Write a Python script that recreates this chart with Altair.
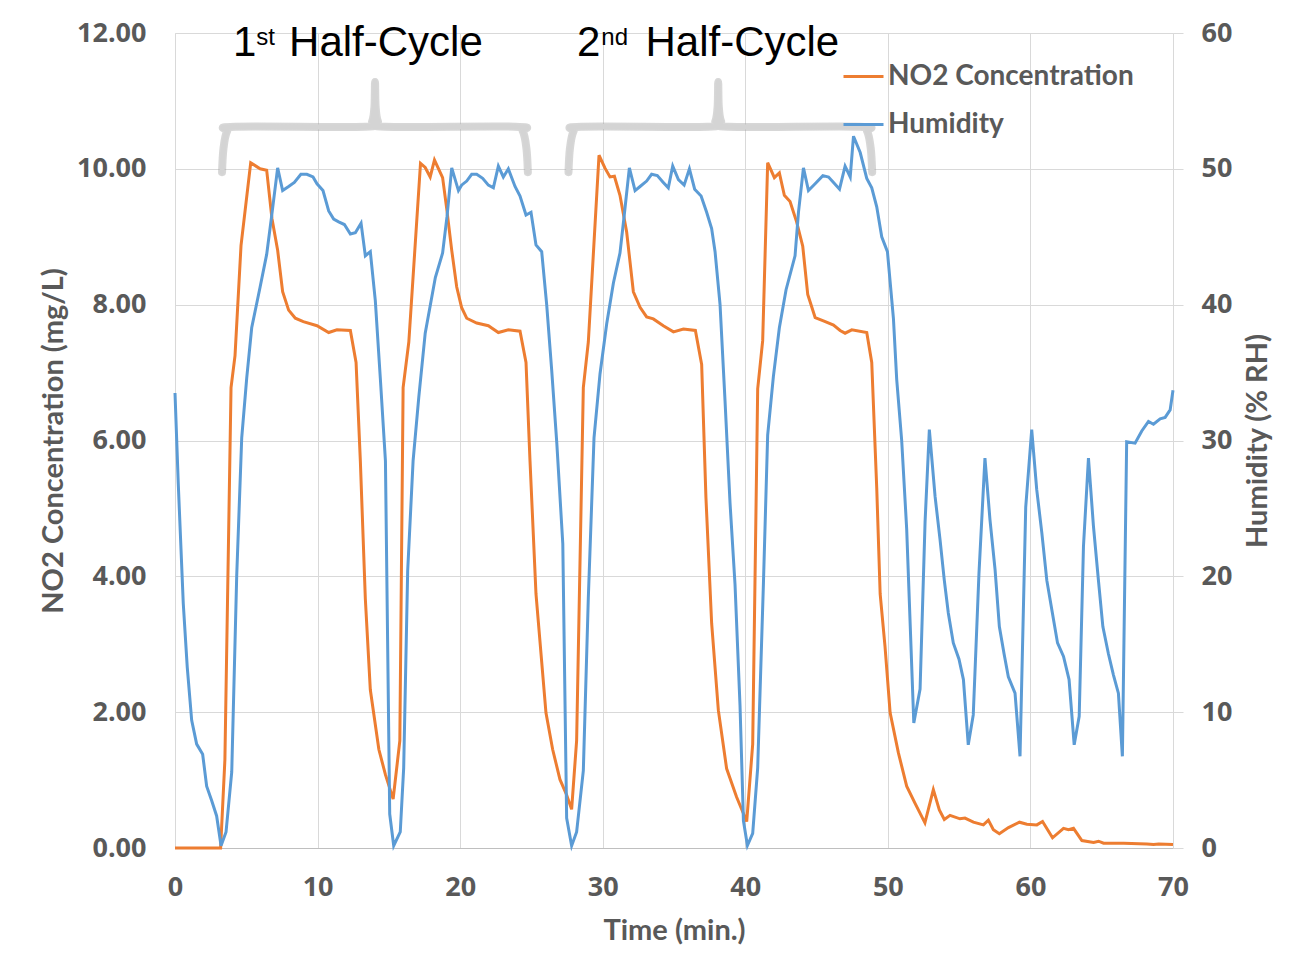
import altair as alt
import pandas as pd

# ---------------- data ----------------
no2_time = [0.0, 3.2, 3.5, 3.93, 4.21, 4.63, 5.31, 5.97, 6.43, 6.8, 7.2, 7.55, 7.97, 8.44, 9.0, 9.96,
            10.78, 11.36, 12.3, 12.7, 13.0, 13.35, 13.7, 14.3, 14.76, 15.3, 15.77, 16.0, 16.4, 17.22,
            17.55, 17.9, 18.2, 18.77, 19.06, 19.41, 19.76, 20.1, 20.46, 21.16, 21.98, 22.68, 23.38,
            24.2, 24.62, 24.9, 25.32, 26.02, 26.49, 27.0, 27.47, 27.82, 28.17, 28.64, 28.99, 29.74,
            30.16, 30.51, 30.82, 31.21, 31.68, 32.15, 32.62, 33.08, 33.55, 34.25, 34.96, 35.66, 36.5,
            36.94, 37.24, 37.64, 38.11, 38.69, 39.39, 40.1, 40.52, 40.87, 41.22, 41.57, 42.04, 42.39,
            42.74, 43.14, 43.6, 44.03, 44.38, 44.9, 45.48, 46.19, 46.65, 47.0, 47.47, 48.52, 48.87,
            49.22, 49.46, 49.8, 50.16, 50.74, 51.32, 51.9, 52.6, 53.19, 53.61, 53.96, 54.36, 55.06,
            55.41, 56.0, 56.7, 57.05, 57.4, 57.82, 58.46, 59.23, 59.75, 60.45, 60.85, 61.55, 62.32,
            62.67, 63.02, 63.61, 64.43, 64.78, 65.13, 66.54, 68.17, 68.64, 69.0, 70.0]
no2_value = [0.0, 0.0, 1.3, 6.78, 7.25, 8.87, 10.09, 10.0, 9.98, 9.27, 8.8, 8.19, 7.92, 7.8, 7.75, 7.69,
             7.59, 7.63, 7.62, 7.15, 5.7, 3.67, 2.33, 1.45, 1.08, 0.72, 1.58, 6.78, 7.45, 10.08,
             10.02, 9.88, 10.13, 9.87, 9.41, 8.8, 8.26, 7.96, 7.8, 7.73, 7.69, 7.59, 7.63,
             7.61, 7.15, 5.7, 3.74, 1.99, 1.45, 1.01, 0.78, 0.57, 1.58, 6.78, 7.45, 10.2,
             10.01, 9.88, 9.89, 9.61, 9.07, 8.19, 7.96, 7.82, 7.79, 7.69, 7.6, 7.64, 7.62,
             7.12, 5.16, 3.31, 2.03, 1.17, 0.75, 0.39, 1.53, 6.76, 7.47, 10.09, 9.87, 9.94,
             9.61, 9.52, 9.22, 8.86, 8.15, 7.81, 7.76, 7.7, 7.62, 7.58, 7.63, 7.59, 7.15,
             5.3, 3.74, 2.97, 1.99, 1.4, 0.91, 0.66, 0.37, 0.86, 0.56, 0.42, 0.48, 0.43,
             0.44, 0.38, 0.34, 0.41, 0.27, 0.21, 0.3, 0.38, 0.35, 0.34, 0.39, 0.15, 0.29,
             0.27, 0.29, 0.11, 0.08, 0.1, 0.07, 0.07, 0.06, 0.05, 0.06, 0.05]

hum_time = [0.0, 0.23, 0.58, 0.86, 1.17, 1.52, 1.94, 2.22, 2.57, 2.92, 3.23, 3.58, 3.98, 4.33, 4.68,
            5.03, 5.38, 5.97, 6.43, 6.8, 7.2, 7.55, 7.97, 8.37, 8.83, 9.25, 9.68, 9.96, 10.38, 10.78,
            11.13, 11.48, 11.88, 12.3, 12.65, 13.05, 13.35, 13.7, 14.05, 14.4, 14.76, 15.06, 15.34,
            15.8, 16.04, 16.32, 16.7, 17.1, 17.55, 18.26, 18.77, 19.08, 19.41, 19.88, 20.1, 20.46,
            20.81, 21.16, 21.58, 21.98, 22.33, 22.68, 23.03, 23.38, 23.85, 24.2, 24.62, 24.97, 25.32,
            25.72, 26.07, 26.42, 26.78, 27.2, 27.47, 27.82, 28.17, 28.64, 28.99, 29.39, 29.81, 30.28,
            30.75, 31.21, 31.49, 31.87, 32.27, 32.62, 33.08, 33.43, 33.83, 34.25, 34.6, 34.91, 35.31,
            35.71, 36.08, 36.45, 36.9, 37.29, 37.64, 37.88, 38.23, 38.58, 38.93, 39.28, 39.63, 39.87,
            40.15, 40.52, 40.87, 41.27, 41.57, 41.97, 42.39, 42.86, 43.49, 43.73, 44.08, 44.43, 44.9,
            45.44, 45.84, 46.19, 46.61, 47.0, 47.36, 47.59, 48.06, 48.52, 48.87, 49.22, 49.57, 49.97,
            50.39, 50.62, 50.97, 51.32, 51.82, 52.26, 52.61, 52.91, 53.31, 53.66, 53.96, 54.24, 54.59,
            54.99, 55.3, 55.64, 55.99, 56.39, 56.81, 57.16, 57.52, 57.82, 58.15, 58.45, 58.92, 59.27,
            59.67, 60.09, 60.44, 60.8, 61.15, 61.54, 61.9, 62.32, 62.71, 63.07, 63.42, 63.72, 64.07,
            64.42, 64.77, 65.08, 65.47, 65.82, 66.17, 66.45, 66.75, 67.34, 67.81, 68.28, 68.63, 69.1,
            69.45, 69.8, 70.0]
hum_value = [33.5, 26.8, 18.0, 13.3, 9.4, 7.65, 6.9, 4.55, 3.5, 2.36, 0.17, 1.18, 5.6, 20.1, 30.2,
             34.6, 38.3, 41.3, 43.7, 46.7, 50.07, 48.4, 48.7, 49.0, 49.6, 49.6, 49.4, 48.9, 48.4, 46.9,
             46.3, 46.1, 45.9, 45.2, 45.3, 46.0, 43.6, 43.9, 40.3, 34.6, 28.5, 2.5, 0.17,
             1.18, 5.9, 20.4, 28.5, 33.2, 37.9, 42.0, 43.8, 46.5, 50.07, 48.4, 48.8, 49.1,
             49.6, 49.6, 49.3, 48.8, 48.6, 50.2, 49.4, 50.0, 48.7, 48.0, 46.6, 46.8, 44.4,
             43.9, 40.0, 35.2, 29.8, 22.4, 2.2, 0.17, 1.18, 5.7, 18.4, 30.2, 34.9, 38.6,
             41.6, 43.8, 46.4, 50.07, 48.4, 48.7, 49.1, 49.6, 49.5, 49.0, 48.6, 50.2, 49.2,
             48.8, 50.0, 48.5, 48.0, 46.8, 45.6, 43.9, 40.0, 32.9, 25.4, 19.4, 10.5, 2.0,
             0.18, 1.07, 5.9, 19.4, 30.4, 34.7, 38.3, 41.1, 43.6, 46.8, 50.07, 48.4, 48.9,
             49.5, 49.4, 49.0, 48.5, 50.2, 49.4, 52.4, 51.2, 49.3, 48.6, 47.2, 45.0, 43.9,
             39.0, 34.5, 30.0, 23.5, 9.2, 11.7, 24.0, 30.8, 25.9, 22.7, 19.7, 17.3, 15.1,
             13.9, 12.4, 7.6, 9.8, 20.2, 28.7, 24.2, 20.5, 16.3, 14.3, 12.6, 11.4, 6.75,
             25.1, 30.8, 26.4, 23.2, 19.7, 17.3, 15.1, 14.1, 12.4, 7.6, 9.7, 22.2, 28.7,
             23.7, 19.7, 16.3, 14.3, 12.75, 11.4, 6.75, 29.9, 29.8, 30.7, 31.4, 31.2, 31.6,
             31.7, 32.25, 33.7]

series_names = ["NO2 Concentration", "Humidity"]
series_colors = ["#ED7D31", "#5B9BD5"]

x_ticks = [0, 10, 20, 30, 40, 50, 60, 70]
no2_ticks = [0, 2, 4, 6, 8, 10, 12]
hum_ticks = [0, 10, 20, 30, 40, 50, 60]

# annotation: half-cycle braces (time range, centre) and labels
brace_start = [3.3, 27.6]
brace_end = [24.75, 48.9]
brace_mid = [14.03, 38.1]
brace_levels = [9.95, 10.62, 11.28]  # end, bar, peak (NO2 units)

cycle_num = ["1", "2"]
cycle_num_x = [4.07, 28.2]
cycle_sup = ["st", "nd"]
cycle_sup_x = [5.7, 29.9]
cycle_text = ["Half-Cycle", "Half-Cycle"]
cycle_text_x = [8.0, 33.0]
label_level = 11.66
sup_level = 11.83

# ---------------- tables ----------------
df_no2 = pd.DataFrame({"time": no2_time, "value": no2_value, "series": series_names[0]})
df_hum = pd.DataFrame({"time": hum_time, "value": hum_value, "series": series_names[1]})


def brace_rows(bid, x0, x1, xc, y_end, y_bar, y_peak):
    pts = [(x0, y_end), (x0 + 0.1, y_end + 0.35), (x0 + 0.35, y_bar - 0.07), (x0 + 0.9, y_bar),
           (xc - 0.7, y_bar), (xc - 0.2, y_bar + 0.08), (xc - 0.04, y_bar + 0.3), (xc, y_peak),
           (xc + 0.04, y_bar + 0.3), (xc + 0.2, y_bar + 0.08), (xc + 0.7, y_bar),
           (x1 - 0.9, y_bar), (x1 - 0.35, y_bar - 0.07), (x1 - 0.1, y_end + 0.35), (x1, y_end)]
    return [{"brace": bid, "idx": i, "time": p[0], "value": p[1]} for i, p in enumerate(pts)]


rows = []
for i in range(len(brace_start)):
    rows += brace_rows(i, brace_start[i], brace_end[i], brace_mid[i], *brace_levels)
df_brace = pd.DataFrame(rows)

df_main = pd.DataFrame({"time": cycle_num_x + cycle_text_x,
                        "value": [label_level] * 4,
                        "label": cycle_num + cycle_text})
df_sup = pd.DataFrame({"time": cycle_sup_x, "value": [sup_level] * 2, "label": cycle_sup})

# ---------------- encodings ----------------
GREY_TXT = "#595959"
GRID = "#d9d9d9"
TICK_FONT = "Open Sans"
TICK_SIZE = 27
TITLE_FONT = "Lato"
TITLE_SIZE = 29

x_enc = alt.X("time:Q",
              scale=alt.Scale(domain=[0, 70], nice=False, zero=False),
              axis=alt.Axis(values=x_ticks, format="d", grid=True, gridColor=GRID,
                            domainColor="#bfbfbf", ticks=False, labelFlush=False,
                            labelFont=TICK_FONT, labelFontWeight="bold", labelFontSize=TICK_SIZE,
                            labelColor=GREY_TXT, labelPadding=26,
                            title="Time (min.)", titleFont=TITLE_FONT, titleFontSize=TITLE_SIZE,
                            titleFontWeight="bold", titleColor=GREY_TXT, titlePadding=16))

y_no2 = alt.Y("value:Q",
              scale=alt.Scale(domain=[0, 12], nice=False),
              axis=alt.Axis(values=no2_ticks, format=".2f", grid=True, gridColor=GRID,
                            domainColor=GRID, ticks=False,
                            labelFont=TICK_FONT, labelFontWeight="bold", labelFontSize=TICK_SIZE,
                            labelColor=GREY_TXT, labelPadding=29,
                            title="NO2 Concentration (mg/L)", titleFont=TITLE_FONT,
                            titleFontSize=TITLE_SIZE,
                            titleFontWeight="bold", titleColor=GREY_TXT, titlePadding=8))

y_hum = alt.Y("value:Q",
              scale=alt.Scale(domain=[0, 60], nice=False),
              axis=alt.Axis(orient="right", values=hum_ticks, format="d", grid=False,
                            domainColor=GRID, ticks=True, tickSize=10, tickColor=GRID,
                            labelFont=TICK_FONT, labelFontWeight="bold", labelFontSize=TICK_SIZE,
                            labelColor=GREY_TXT, labelPadding=18,
                            title="Humidity (% RH)", titleFont=TITLE_FONT, titleFontSize=TITLE_SIZE,
                            titleFontWeight="bold", titleColor=GREY_TXT, titlePadding=12,
                            titleAngle=270, titleBaseline="top"))

color_enc = alt.Color("series:N",
                      scale=alt.Scale(domain=series_names, range=series_colors),
                      legend=alt.Legend(orient="none", legendX=667, legendY=22, title=None,
                                        symbolType="stroke", symbolSize=1600,
                                        symbolStrokeWidth=3, labelFont=TITLE_FONT,
                                        labelFontSize=28, labelFontWeight="bold",
                                        labelColor=GREY_TXT, rowPadding=12, labelOffset=3,
                                        labelLimit=0, padding=0))

# ---------------- marks ----------------
brace_shadow = alt.Chart(df_brace).mark_line(
    color="#a6a6a6", strokeWidth=8, opacity=0.45, interpolate="cardinal",
    strokeCap="round", strokeJoin="round"
).encode(x=x_enc, y=y_no2, detail="brace:N", order="idx:Q")

brace_line = alt.Chart(df_brace).mark_line(
    color="#d4d4d4", strokeWidth=5, interpolate="cardinal",
    strokeCap="round", strokeJoin="round"
).encode(x=x_enc, y=y_no2, detail="brace:N", order="idx:Q")

no2_line = alt.Chart(df_no2).mark_line(strokeWidth=3).encode(
    x=x_enc, y=y_no2, color=color_enc)

main_text = alt.Chart(df_main).mark_text(
    font="Liberation Sans", fontSize=42, color="black", align="left", baseline="alphabetic"
).encode(x=x_enc, y=y_no2, text="label:N")

sup_text = alt.Chart(df_sup).mark_text(
    font="Liberation Sans", fontSize=24, color="black", align="left", baseline="alphabetic"
).encode(x=x_enc, y=y_no2, text="label:N")

left_group = alt.layer(brace_shadow, brace_line, no2_line, main_text, sup_text)

hum_line = alt.Chart(df_hum).mark_line(strokeWidth=3).encode(
    x=x_enc, y=y_hum, color=color_enc)

chart = alt.layer(left_group, hum_line).resolve_scale(y="independent").properties(
    width=998, height=815,
    autosize=alt.AutoSizeParams(type="none"),
    padding={"left": 175, "top": 33, "right": 132, "bottom": 106},
    background="white",
).configure_view(stroke=None)

chart.save("out.html", embed_options={"renderer": "svg", "actions": False})
